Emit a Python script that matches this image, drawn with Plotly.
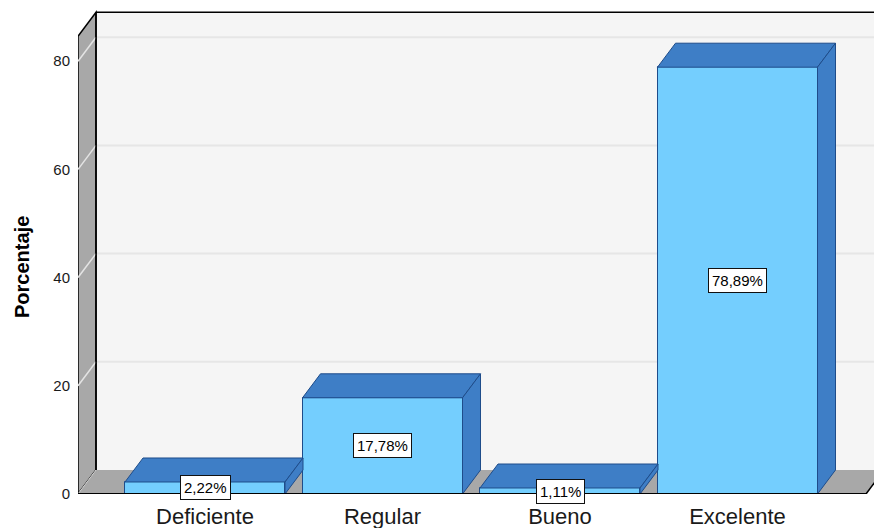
import plotly.graph_objects as go

# ---- data ----
categories = ["Deficiente", "Regular", "Bueno", "Excelente"]
percentages = [2.22, 17.78, 1.11, 78.89]
value_labels = ["2,22%", "17,78%", "1,11%", "78,89%"]
y_ticks = [0, 20, 40, 60, 80]
y_title = "Porcentaje"

# ---- geometry (data units) ----
XL, XR = -0.7155, 3.724      # front left / right edge of floor
DX, DY = 0.1014, 4.436       # 3D depth offset
YTOP = 84.6                  # front top of left wall
HW = 0.4507                  # half bar width
FONT = "Liberation Sans, Arial, sans-serif"

FRONT = "#74CEFE"
DARK = "#3E7EC6"
EDGE = "#1E4C8A"
WALL = "#A8A8A8"
BACK = "#F5F5F5"

xs = list(range(len(categories)))

fig = go.Figure()

# front faces of bars
fig.add_trace(go.Bar(x=xs, y=percentages, width=2 * HW, marker=dict(color=FRONT, line=dict(color=EDGE, width=1)),
                     hoverinfo="skip", showlegend=False))

# top and side faces
for i, v in zip(xs, percentages):
    fig.add_trace(go.Scatter(
        x=[i - HW, i - HW + DX, i + HW + DX, i + HW, i - HW],
        y=[v, v + DY, v + DY, v, v],
        fill="toself", fillcolor=DARK, mode="lines", line=dict(color=EDGE, width=1),
        hoverinfo="skip", showlegend=False))
    fig.add_trace(go.Scatter(
        x=[i + HW, i + HW + DX, i + HW + DX, i + HW, i + HW],
        y=[0, DY, v + DY, v, 0],
        fill="toself", fillcolor=DARK, mode="lines", line=dict(color=EDGE, width=1),
        hoverinfo="skip", showlegend=False))

shapes = []
# back wall
shapes.append(dict(type="rect", xref="x", yref="y", x0=XL + DX, x1=XR + DX + 0.2, y0=DY, y1=YTOP + DY,
                   fillcolor=BACK, line=dict(width=0), layer="below"))
for t in y_ticks[1:]:
    shapes.append(dict(type="line", xref="x", yref="y", x0=XL + DX, x1=XR + DX + 0.2, y0=t + DY, y1=t + DY,
                       line=dict(color="#E6E6E6", width=2), layer="below"))
# left wall
shapes.append(dict(type="path", xref="x", yref="y",
                   path=f"M {XL},0 L {XL + DX},{DY} L {XL + DX},{YTOP + DY} L {XL},{YTOP} Z",
                   fillcolor=WALL, line=dict(color="black", width=1.5), layer="below"))
for t in y_ticks[1:]:
    shapes.append(dict(type="line", xref="x", yref="y", x0=XL, x1=XL + DX, y0=t, y1=t + DY,
                       line=dict(color="#E4E4E4", width=1.5), layer="below"))
# floor
shapes.append(dict(type="path", xref="x", yref="y",
                   path=f"M {XL},0 L {XR},0 L {XR + DX},{DY} L {XL + DX},{DY} Z",
                   fillcolor=WALL, line=dict(width=0), layer="below"))
shapes.append(dict(type="line", xref="x", yref="y", x0=XL, x1=XL + DX, y0=0, y1=DY,
                   line=dict(color="#D8D8D8", width=1), layer="below"))
# edges
shapes.append(dict(type="line", xref="x", yref="y", x0=XL + DX, x1=XR + DX + 0.2, y0=YTOP + DY, y1=YTOP + DY,
                   line=dict(color="black", width=1.5), layer="below"))
shapes.append(dict(type="line", xref="x", yref="y", x0=XL + DX, x1=XL + DX, y0=DY, y1=YTOP + DY,
                   line=dict(color="black", width=1.5), layer="below"))
shapes.append(dict(type="line", xref="x", yref="y", x0=XR, x1=XR + DX, y0=0, y1=DY,
                   line=dict(color="black", width=1.5), layer="below"))
shapes.append(dict(type="line", xref="x", yref="y", x0=XL, x1=XR, y0=0, y1=0,
                   line=dict(color="black", width=2), layer="above"))

annotations = []
for i, v, lab in zip(xs, percentages, value_labels):
    annotations.append(dict(x=i, y=v / 2, xref="x", yref="y", text=lab, showarrow=False,
                            font=dict(family=FONT, size=15, color="black"),
                            bgcolor="white", bordercolor="#111111", borderwidth=1, borderpad=3))
annotations.append(dict(x=-0.0704, y=0.4595, xref="paper", yref="paper", text=f"<b>{y_title}</b>",
                        textangle=-90, showarrow=False, font=dict(family=FONT, size=20, color="black"),
                        xanchor="center", yanchor="middle"))

fig.update_layout(
    width=874, height=528,
    margin=dict(l=78, r=0, t=0, b=34),
    paper_bgcolor="white", plot_bgcolor="white",
    shapes=shapes, annotations=annotations,
    bargap=0,
    xaxis=dict(range=[-0.71549, 3.76901], tickvals=xs, ticktext=categories, showgrid=False, zeroline=False,
               showline=False, ticks="", tickfont=dict(family=FONT, size=22, color="#1a1a1a"),
               ticklabelstandoff=7, automargin=False, fixedrange=True),
    yaxis=dict(range=[0, 91.31], tickvals=y_ticks, ticktext=[str(t) for t in y_ticks], showgrid=False,
               zeroline=False, showline=False, ticks="", tickfont=dict(family=FONT, size=15, color="#1a1a1a"),
               ticklabelstandoff=7, automargin=False, fixedrange=True),
    font=dict(family=FONT),
)

fig.write_html("out.html", config={"displayModeBar": False},
               post_script="document.body.style.margin='0';document.body.style.overflow='hidden';")
